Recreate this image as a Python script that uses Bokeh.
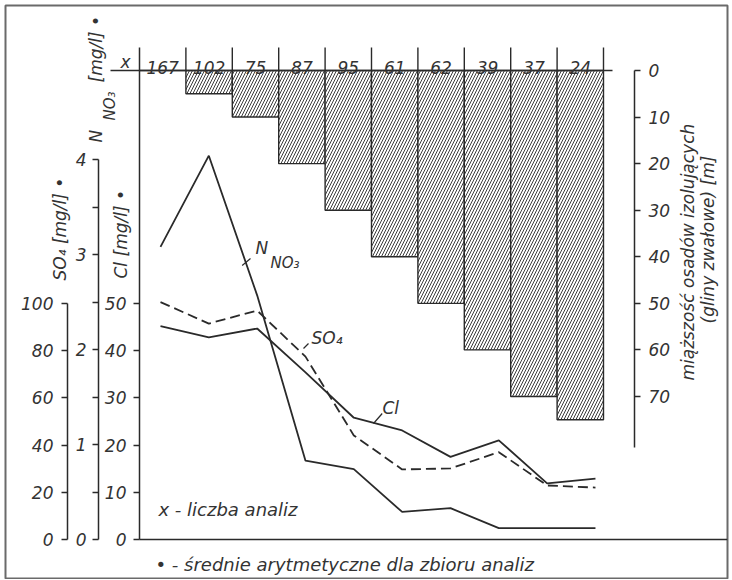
import math
from bokeh.plotting import figure
from bokeh.models import Range1d, LinearAxis, FixedTicker, Label
from bokeh.core.properties import value
from bokeh.embed import file_html
from bokeh.resources import INLINE

# ---------------- data ----------------
analyses = ["167", "102", "75", "87", "95", "61", "62", "39", "37", "24"]   # x - liczba analiz
thickness_m = [0, 5, 10, 20, 30, 40, 50, 60, 70, 75]                        # miąższość [m]
n_no3 = [3.08, 4.04, 2.57, 0.83, 0.74, 0.29, 0.33, 0.12, 0.12, 0.12]        # N_NO3 [mg/l]
so4 = [100.6, 91.5, 97.0, 77.5, 44.1, 29.7, 30.1, 37.0, 22.9, 22.0]         # SO4 [mg/l]
cl = [45.2, 42.8, 44.7, 35.4, 25.8, 23.1, 17.5, 21.0, 11.9, 12.9]           # Cl [mg/l]

cl_ticks = [0, 10, 20, 30, 40, 50]
n_ticks = [0, 1, 2, 3, 4]
n_minor_ticks = [0.5, 1.5, 2.5, 3.5]
so4_ticks = [0, 20, 40, 60, 80, 100]
depth_ticks = [0, 10, 20, 30, 40, 50, 60, 70]

# ---------------- style / layout (pixel geometry) ----------------
FONT = "DejaVu Sans"
INK = "#2a2a2a"
TXT = "#333333"
FS = 17

W, H = 730, 579
BOX_L, BOX_R, BOX_T, BOX_B = 5, 727, 5, 578
AX_CL, AX_N, AX_SO4, AX_DEPTH = 139, 98, 67, 634
TOP, BASE = 47, 539
COL_W = 46.4
PT0, PT_W = 160, 48.33
CL_PX, N_PX, SO4_PX = 4.72, 95.0, 2.36
DEPTH0, DEPTH_PX = 70, 4.657


def px_x(px):
    return (px - AX_CL) / COL_W


def px_y(py):
    return (BASE - py) / CL_PX


def dp(py):
    return (py - DEPTH0) / DEPTH_PX


p = figure(
    width=W, height=H,
    x_range=Range1d(px_x(BOX_L), px_x(BOX_R)),
    y_range=Range1d(px_y(BOX_B), px_y(BOX_T)),
    x_axis_location=None, y_axis_location=None,
    output_backend="svg", toolbar_location=None,
    min_border_left=BOX_L, min_border_right=W - BOX_R,
    min_border_top=BOX_T, min_border_bottom=H - BOX_B,
    background_fill_color="white", border_fill_color="white",
)
p.outline_line_color = "#6a6a6a"
p.outline_line_width = 2
p.grid.visible = False

p.extra_x_ranges = {"pts": Range1d((BOX_L - PT0) / PT_W, (BOX_R - PT0) / PT_W)}
p.extra_y_ranges = {
    "N": Range1d((BASE - BOX_B) / N_PX, (BASE - BOX_T) / N_PX),
    "SO4": Range1d((BASE - BOX_B) / SO4_PX, (BASE - BOX_T) / SO4_PX),
    "depth": Range1d(dp(BOX_B), dp(BOX_T)),
}


def style_axis(ax, standoff):
    ax.axis_line_color = INK
    ax.axis_line_width = 1.5
    ax.major_tick_line_color = INK
    ax.major_tick_line_width = 1.5
    ax.minor_tick_line_color = INK
    ax.minor_tick_line_width = 1.5
    ax.major_tick_in = 0
    ax.major_tick_out = 6
    ax.minor_tick_in = 0
    ax.minor_tick_out = 6
    ax.major_label_standoff = standoff
    ax.major_label_text_font = FONT
    ax.major_label_text_font_style = "italic"
    ax.major_label_text_font_size = f"{FS}px"
    ax.major_label_text_color = TXT


# bottom line
b_ax = LinearAxis(fixed_location=0, bounds=(px_x(AX_CL), px_x(BOX_R)), ticker=FixedTicker(ticks=[]))
b_ax.axis_line_color = INK
b_ax.axis_line_width = 1.5
b_ax.major_tick_line_color = None
b_ax.minor_tick_line_color = None
p.add_layout(b_ax, "below")

# Cl axis
cl_ax = LinearAxis(fixed_location=px_x(AX_CL), bounds=(0, px_y(TOP)),
                   ticker=FixedTicker(ticks=cl_ticks, minor_ticks=[]))
style_axis(cl_ax, 7)
p.add_layout(cl_ax, "left")

# N axis
n_ax = LinearAxis(fixed_location=px_x(AX_N), y_range_name="N", bounds=(0, 4),
                  ticker=FixedTicker(ticks=n_ticks, minor_ticks=n_minor_ticks))
style_axis(n_ax, 6)
p.add_layout(n_ax, "left")

# SO4 axis
s_ax = LinearAxis(fixed_location=px_x(AX_SO4), y_range_name="SO4", bounds=(0, 100),
                  ticker=FixedTicker(ticks=so4_ticks, minor_ticks=[]))
style_axis(s_ax, 8)
p.add_layout(s_ax, "left")

# depth axis (right)
d_ax = LinearAxis(fixed_location=px_x(AX_DEPTH), y_range_name="depth", bounds=(0, 81),
                  ticker=FixedTicker(ticks=depth_ticks, minor_ticks=[]))
style_axis(d_ax, 8)
p.add_layout(d_ax, "right")

# ---------------- bars (thickness) ----------------
n = len(analyses)
lefts = list(range(n))
rights = [i + 1 for i in range(n)]
p.quad(left=lefts, right=rights, top=[0] * n, bottom=thickness_m, y_range_name="depth",
       fill_color="white", line_color=INK, line_width=1.4,
       hatch_pattern="/", hatch_scale=6, hatch_weight=1, hatch_color="#3c3c3c")

# header dividers + header line
p.segment(x0=rights, x1=rights, y0=[dp(TOP)] * n, y1=[0] * n, y_range_name="depth",
          line_color=INK, line_width=1.4)
p.segment(x0=[px_x(110)], x1=[px_x(612)], y0=[0], y1=[0], y_range_name="depth",
          line_color=INK, line_width=1.5)
# header numbers
p.text(x=[i + 0.5 for i in range(n)], y=[dp(67)] * n, text=analyses,
       y_range_name="depth", text_font=value(FONT), text_font_style="italic",
       text_font_size=f"{FS}px", text_align="center", text_baseline="alphabetic",
       text_color=TXT)


def lab(x, y, text, size=FS, angle=0, align="left", baseline="alphabetic"):
    if angle == 0 and baseline == "alphabetic":
        y = y - 0.35 * size   # Label box anchoring sits lower than the glyph baseline
    p.add_layout(Label(x=px_x(x), y=px_y(y), text=text, angle=angle,
                       text_font=FONT, text_font_style="italic", text_font_size=f"{size}px",
                       text_color=TXT, text_align=align, text_baseline=baseline))


lab(125, 67, "x", align="center")

# ---------------- lines ----------------
idx = list(range(n))
p.line(idx, n_no3, x_range_name="pts", y_range_name="N", line_color=INK, line_width=1.8)
p.line(idx, so4, x_range_name="pts", y_range_name="SO4", line_color=INK, line_width=1.8,
       line_dash="10 5")
p.line(idx, cl, x_range_name="pts", line_color=INK, line_width=1.8)

# leaders + line labels
leaders = [((241.7, 265), (250, 258)), ((303, 348), (308, 343)), ((373, 423), (381.7, 413))]
p.segment(x0=[px_x(a[0]) for a, b in leaders], y0=[px_y(a[1]) for a, b in leaders],
          x1=[px_x(b[0]) for a, b in leaders], y1=[px_y(b[1]) for a, b in leaders],
          line_color=INK, line_width=1.2)
lab(255, 253, "N")
lab(270, 268, "NO₃", size=15)
lab(311, 343, "SO₄")
lab(382, 413, "Cl")

# ---------------- axis titles ----------------
R = math.pi / 2
lab(95, 142, "N", angle=R, baseline="middle")
lab(109, 120, "NO₃", size=15, angle=R, baseline="middle")
lab(95, 82, "[mg/l] •", angle=R, baseline="middle")
lab(59, 280, "SO₄ [mg/l] •", angle=R, baseline="middle")
lab(120, 278, "Cl [mg/l] •", angle=R, baseline="middle")
lab(687, 380, "miąższość osadów izolujących", angle=R, baseline="middle")
lab(707, 323, "(gliny zwałowe) [m]", angle=R, baseline="middle")

# ---------------- notes ----------------
lab(158, 515, "x - liczba analiz", size=18)
lab(155, 570, "• - średnie arytmetyczne dla zbioru analiz", size=18)

open("out.html", "w").write(file_html(p, INLINE))
